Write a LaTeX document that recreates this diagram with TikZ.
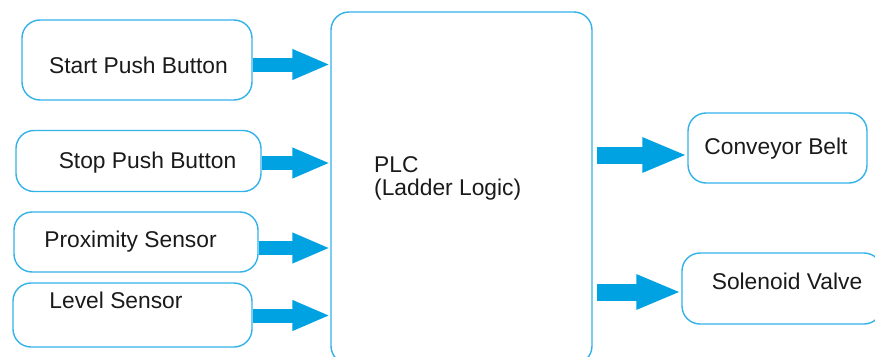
\documentclass[tikz,border=0pt]{standalone}
\usepackage{fontspec}
\setmainfont{Liberation Sans}
\usetikzlibrary{arrows.meta}
\definecolor{boxline}{HTML}{33B2EA}
\definecolor{flow}{HTML}{00A2E2}
\definecolor{ink}{HTML}{1A1A1A}
\tikzset{
  unit/.style={draw=boxline, line width=1.4pt, rounded corners=18pt, inner sep=0pt},
  lbl/.style={anchor=base, text=ink, inner sep=0pt, font=\fontsize{22.8}{27}\selectfont},
  infeed/.style={draw=flow, line width=14pt, -{Triangle[length=38pt,width=28pt]}},
  outfeed/.style={draw=flow, line width=17pt, -{Triangle[length=45pt,width=32pt]}}
}
\begin{document}
\begin{tikzpicture}[x=1pt,y=-1pt]
\useasboundingbox (0,0) rectangle (875,356);
\clip (0,0) rectangle (875,356);

% controller block
\node[unit, minimum width=261pt, minimum height=352pt] (plc) at (461.5,188) {};
\node[anchor=base west, text=ink, inner sep=0pt, font=\fontsize{22.8}{27}\selectfont] (plcname) at (374,172) {PLC};
\node[anchor=base west, text=ink, inner sep=0pt, font=\fontsize{22.8}{27}\selectfont] (plcsub) at (374,195) {(Ladder Logic)};

% input devices
\node[unit, minimum width=230pt, minimum height=80pt] (start) at (137,60) {};
\node[lbl] (startlbl) at (138.5,73) {Start Push Button};
\node[unit, minimum width=245pt, minimum height=61pt] (stop) at (138.5,161) {};
\node[lbl] (stoplbl) at (147.5,168) {Stop Push Button};
\node[unit, minimum width=244pt, minimum height=60pt] (prox) at (136,242) {};
\node[lbl] (proxlbl) at (130.5,247) {Proximity Sensor};
\node[unit, minimum width=239pt, minimum height=64pt] (level) at (132.5,315) {};
\node[lbl] (levellbl) at (116,308) {Level Sensor};

% output devices
\node[unit, minimum width=179pt, minimum height=70pt] (belt) at (777.5,148) {};
\node[lbl] (beltlbl) at (776,154) {Conveyor Belt};
\node[unit, minimum width=200pt, minimum height=71pt] (valve) at (782,288.5) {};
\node[lbl] (valvelbl) at (787,289) {Solenoid Valve};

% signal flow (yshift is measured upwards on the page)
\draw[infeed] ([yshift=-4.5pt]start.east) -- ([yshift=-4.5pt]start.east -| plc.west);
\draw[infeed] ([yshift=-2pt]stop.east) -- ([yshift=-2pt]stop.east -| plc.west);
\draw[infeed] ([yshift=-6pt]prox.east) -- ([yshift=-6pt]prox.east -| plc.west);
\draw[infeed] ([yshift=-0.5pt]level.east) -- ([yshift=-0.5pt]level.east -| plc.west);
\draw[outfeed] ([xshift=4pt,yshift=-7pt]plc.east |- belt.west) -- ([yshift=-7pt]belt.west);
\draw[outfeed] ([xshift=4pt,yshift=-3.5pt]plc.east |- valve.west) -- ([yshift=-3.5pt]valve.west);
\end{tikzpicture}
\end{document}
